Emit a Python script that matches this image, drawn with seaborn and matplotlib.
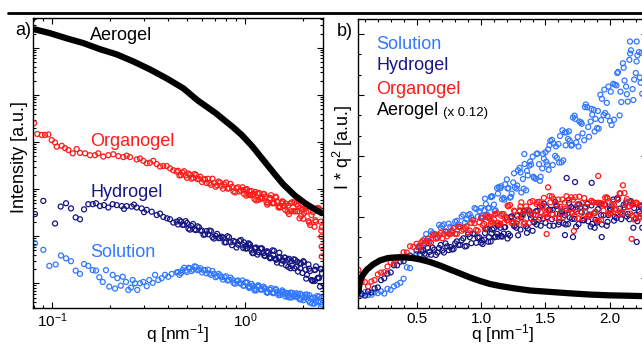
import numpy as np
import matplotlib
matplotlib.use("Agg")
import matplotlib.pyplot as plt
import seaborn as sns
from matplotlib.lines import Line2D
from matplotlib.ticker import (LogLocator, NullFormatter, MultipleLocator,
                               FixedLocator, FormatStrFormatter)

SOL_COLOR = "#3278ff"
HYDRO_COLOR = "#161683"
ORGANO_COLOR = "#ff1a1a"

# ---------------- panel a) : log-log curves, values are log10(I) (offset curves)
# dense high-q part, interleaved q grids
Q_HI_A = [0.449, 0.466, 0.483, 0.500, 0.518, 0.537, 0.557, 0.577, 0.598, 0.620,
          0.643, 0.666, 0.690, 0.716, 0.742, 0.769, 0.797, 0.826, 0.856, 0.887,
          0.920, 0.953, 0.988, 1.024, 1.062, 1.100, 1.141, 1.182, 1.225, 1.270,
          1.316, 1.364, 1.414, 1.466, 1.519, 1.575, 1.632, 1.691, 1.754, 1.817,
          1.884, 1.953, 2.023, 2.097, 2.174, 2.253, 2.335, 2.421, 2.509]
Q_HI_B = [0.457, 0.474, 0.492, 0.509, 0.527, 0.547, 0.567, 0.587, 0.609, 0.631,
          0.654, 0.678, 0.703, 0.729, 0.755, 0.783, 0.811, 0.841, 0.871, 0.903,
          0.936, 0.970, 1.006, 1.043, 1.081, 1.120, 1.161, 1.203, 1.247, 1.293,
          1.340, 1.389, 1.440, 1.492, 1.547, 1.603, 1.662, 1.722, 1.785, 1.850,
          1.918, 1.987, 2.060, 2.135, 2.213, 2.294, 2.378, 2.465]
Q_HI_C = [0.979, 1.015, 1.052, 1.091, 1.130, 1.172, 1.214, 1.258, 1.304, 1.352,
          1.401, 1.452, 1.506, 1.560, 1.618, 1.676, 1.737, 1.801, 1.866, 1.935,
          2.006, 2.078, 2.154, 2.233, 2.314, 2.398, 2.486]

ORGANO_LQ = [0.0804, 0.0836, 0.0881, 0.0917, 0.0953, 0.0993, 0.1033, 0.1054, 0.1119, 0.1164,
             0.1211, 0.1276, 0.1338, 0.1392, 0.1478, 0.1569, 0.1665, 0.1732, 0.1839, 0.1952,
             0.2072, 0.2201, 0.2336, 0.2433, 0.2530, 0.2742, 0.2851, 0.2966, 0.3090, 0.3214,
             0.3343, 0.3482, 0.3621, 0.3767, 0.3924, 0.4081, 0.4244, 0.4419, 2.50, 2.50, 2.49]
ORGANO_LI = [3.40, 3.17, 3.15, 3.15, 3.16, 3.04, 2.99, 2.90, 2.92, 2.87,
             2.83, 2.76, 2.85, 2.77, 2.76, 2.72, 2.72, 2.76, 2.69, 2.72,
             2.74, 2.70, 2.68, 2.71, 2.68, 2.63, 2.65, 2.60, 2.55, 2.56,
             2.60, 2.53, 2.48, 2.49, 2.49, 2.44, 2.40, 2.37, 0.78, 0.57, 0.99]
ORGANO_HI_A = [2.39, 2.30, 2.38, 2.24, 2.30, 2.24, 2.30, 2.22, 2.15, 2.21,
               2.22, 2.09, 2.13, 2.08, 2.14, 2.01, 2.14, 2.02, 2.05, 1.93,
               2.04, 1.97, 1.90, 2.00, 1.87, 1.90, 1.76, 1.92, 1.80, 1.84,
               1.71, 1.87, 1.70, 1.73, 1.61, 1.73, 1.69, 1.47, 1.72, 1.53,
               1.64, 1.43, 1.49, 1.64, 1.24, 1.51, 1.31, 1.59, 1.19]
ORGANO_HI_B = [2.29, 2.35, 2.29, 2.33, 2.22, 2.32, 2.21, 2.26, 2.20, 2.13,
               2.13, 2.22, 2.05, 2.16, 2.07, 2.10, 2.01, 2.11, 1.95, 2.02,
               1.95, 2.04, 1.99, 1.88, 1.96, 1.79, 1.91, 1.80, 1.90, 1.72,
               1.80, 1.70, 1.84, 1.61, 1.70, 1.64, 1.52, 1.70, 1.53, 1.68,
               1.38, 1.56, 1.59, 1.32, 1.45, 1.20, 1.60, 1.31]
ORGANO_HI_C = [1.98, 1.86, 1.96, 1.87, 1.94, 1.77, 1.83, 1.89, 1.67, 1.81,
               1.71, 1.82, 1.64, 1.74, 1.56, 1.65, 1.53, 1.72, 1.53, 1.60,
               1.37, 1.52, 1.29, 1.60, 1.34, 1.57, 1.12]

HYDRO_LQ = [0.0813, 0.0898, 0.1033, 0.1105, 0.1178, 0.1250, 0.1322, 0.1392, 0.1461, 0.1537,
            0.1621, 0.1685, 0.1768, 0.1854, 0.1952, 0.2057, 0.2159, 0.2292, 0.2355, 0.2433,
            0.2582, 0.2655, 0.2742, 0.2909, 0.2991, 0.3090, 0.3280, 0.3482, 0.3621, 0.3767,
            0.3937, 0.4081, 0.4244, 0.4419, 2.45, 2.30]
HYDRO_LI = [1.47, 1.75, 1.27, 1.63, 1.70, 1.59, 1.40, 1.36, 1.57, 1.68,
            1.68, 1.70, 1.64, 1.66, 1.61, 1.68, 1.66, 1.64, 1.58, 1.64,
            1.63, 1.67, 1.61, 1.59, 1.51, 1.56, 1.52, 1.45, 1.48, 1.41,
            1.38, 1.36, 1.29, 1.31, -0.07, 0.05]
HYDRO_HI_A = [1.25, 1.31, 1.24, 1.28, 1.14, 1.26, 1.13, 1.19, 1.12, 1.04,
              1.04, 1.11, 0.95, 1.05, 0.96, 0.97, 0.87, 0.98, 0.81, 0.88,
              0.82, 0.92, 0.87, 0.74, 0.82, 0.64, 0.76, 0.66, 0.74, 0.58,
              0.65, 0.54, 0.69, 0.44, 0.55, 0.48, 0.38, 0.52, 0.38, 0.50,
              0.25, 0.42, 0.45, 0.18, 0.26, 0.05, 0.36, 0.11, 0.21]
HYDRO_HI_B = [1.34, 1.24, 1.32, 1.16, 1.22, 1.14, 1.21, 1.12, 1.03, 1.11,
              1.12, 0.98, 1.01, 0.96, 0.99, 0.87, 1.00, 0.87, 0.90, 0.76,
              0.90, 0.82, 0.74, 0.85, 0.70, 0.74, 0.61, 0.74, 0.64, 0.67,
              0.55, 0.70, 0.52, 0.55, 0.42, 0.55, 0.50, 0.32, 0.51, 0.35,
              0.43, 0.22, 0.29, 0.40, 0.07, 0.28, 0.11, 0.31]
HYDRO_HI_C = [0.75, 0.80, 0.83, 0.65, 0.75, 0.66, 0.74, 0.59, 0.68, 0.53,
              0.60, 0.50, 0.65, 0.49, 0.54, 0.35, 0.47, 0.32, 0.46, 0.32,
              0.47, 0.10, 0.31, 0.06, 0.29, 0.12, 0.30]

SOL_LQ = [0.0813, 0.0898, 0.0965, 0.1041, 0.1109, 0.1178, 0.1250, 0.1322, 0.1392, 0.1461,
          0.1537, 0.1621, 0.1685, 0.1753, 0.1826, 0.1899, 0.1975, 0.2057, 0.2115, 0.2175,
          0.2265, 0.2319, 0.2412, 0.2479, 0.2561, 0.2613, 0.2686, 0.2761, 0.2851, 0.2966,
          0.3090, 0.3187, 0.3319, 0.3412, 0.3549, 0.3695, 0.3844, 0.3999, 0.4164, 0.4419, 2.48]
SOL_LI = [0.85, 0.71, 0.37, 0.40, 0.59, 0.53, 0.47, 0.27, 0.20, 0.41,
          0.37, 0.28, 0.27, 0.13, 0.03, 0.28, -0.07, 0.18, -0.11, 0.11,
          -0.05, 0.14, 0.03, -0.14, -0.09, 0.07, 0.00, -0.14, 0.00, 0.03,
          -0.06, 0.07, 0.01, 0.18, 0.07, 0.11, 0.18, 0.14, 0.20, 0.23, -0.50]
SOL_HI_A = [0.24, 0.22, 0.33, 0.24, 0.32, 0.29, 0.35, 0.29, 0.23, 0.28,
            0.29, 0.18, 0.20, 0.15, 0.17, 0.08, 0.15, 0.07, 0.08, -0.01,
            0.06, 0.00, -0.05, 0.02, -0.08, -0.06, -0.15, -0.06, -0.13, -0.11,
            -0.19, -0.10, -0.20, -0.18, -0.25, -0.18, -0.20, -0.30, -0.20, -0.28,
            -0.23, -0.34, -0.30, -0.24, -0.41, -0.30, -0.39, -0.28, -0.45]
SOL_HI_B = [0.18, 0.28, 0.27, 0.33, 0.26, 0.36, 0.28, 0.32, 0.28, 0.21,
            0.21, 0.26, 0.13, 0.20, 0.13, 0.13, 0.06, 0.12, 0.01, 0.05,
            0.00, 0.06, 0.02, -0.07, -0.01, -0.15, -0.07, -0.13, -0.07, -0.19,
            -0.13, -0.20, -0.12, -0.25, -0.19, -0.22, -0.28, -0.20, -0.28, -0.21,
            -0.34, -0.25, -0.24, -0.37, -0.32, -0.43, -0.27, -0.40]
SOL_HI_C = [-0.05, 0.01, -0.10, -0.05, -0.11, -0.04, -0.13, -0.10, -0.20, -0.14,
            -0.21, -0.14, -0.21, -0.15, -0.28, -0.21, -0.30, -0.23, -0.29, -0.22,
            -0.36, -0.30, -0.25, -0.43, -0.31, -0.39, -0.31]

AERO_LQ = [0.0813, 0.0973, 0.1188, 0.1448, 0.1768, 0.2159, 0.2633, 0.3214, 0.3924, 0.4785,
           0.565, 0.706, 0.869, 0.961, 1.09, 1.221, 1.431, 1.58, 1.818, 2.05, 2.308, 2.50]
AERO_LI = [5.39, 5.31, 5.20, 5.10, 4.97, 4.86, 4.71, 4.54, 4.35, 4.14,
           3.89, 3.61, 3.31, 3.15, 2.91, 2.66, 2.31, 2.10, 1.86, 1.70, 1.57, 1.49]

# ---------------- panel b) : Kratky plot I*q^2 (arbitrary units)
KQ_A = [0.050, 0.075, 0.100, 0.125, 0.150, 0.175, 0.200, 0.225, 0.250, 0.275,
        0.300, 0.325, 0.350, 0.375, 0.400, 0.425, 0.450, 0.475, 0.500, 0.525,
        0.550, 0.575, 0.600, 0.625, 0.650, 0.675, 0.700, 0.725, 0.750, 0.775,
        0.800, 0.825, 0.850, 0.875, 0.900, 0.925, 0.950, 0.975, 1.000, 1.025,
        1.050, 1.075, 1.100, 1.125, 1.150, 1.175, 1.200, 1.225, 1.250, 1.275,
        1.300, 1.325, 1.350, 1.375, 1.400, 1.425, 1.450, 1.475, 1.500, 1.525,
        1.550, 1.575, 1.600, 1.625, 1.650, 1.675, 1.700, 1.725, 1.750, 1.775,
        1.800, 1.825, 1.850, 1.875, 1.900, 1.925, 1.950, 1.975, 2.000, 2.025,
        2.050, 2.075, 2.100, 2.125, 2.150, 2.175, 2.200, 2.225, 2.250]
KQ_B = [0.5125, 0.5375, 0.5625, 0.5875, 0.6125, 0.6375, 0.6625, 0.6875, 0.7125, 0.7375,
        0.7625, 0.7875, 0.8125, 0.8375, 0.8625, 0.8875, 0.9125, 0.9375, 0.9625, 0.9875,
        1.0125, 1.0375, 1.0625, 1.0875, 1.1125, 1.1375, 1.1625, 1.1875, 1.2125, 1.2375,
        1.2625, 1.2875, 1.3125, 1.3375, 1.3625, 1.3875, 1.4125, 1.4375, 1.4625, 1.4875,
        1.5125, 1.5375, 1.5625, 1.5875, 1.6125, 1.6375, 1.6625, 1.6875, 1.7125, 1.7375,
        1.7625, 1.7875, 1.8125, 1.8375, 1.8625, 1.8875, 1.9125, 1.9375, 1.9625, 1.9875,
        2.0125, 2.0375, 2.0625, 2.0875, 2.1125, 2.1375, 2.1625, 2.1875, 2.2125, 2.2375]
KQ_C = [1.006, 1.031, 1.056, 1.081, 1.106, 1.131, 1.156, 1.181, 1.206, 1.231,
        1.256, 1.281, 1.306, 1.331, 1.356, 1.381, 1.406, 1.431, 1.456, 1.481,
        1.506, 1.531, 1.556, 1.581, 1.606, 1.631, 1.656, 1.681, 1.706, 1.731,
        1.756, 1.781, 1.806, 1.831, 1.856, 1.881, 1.906, 1.931, 1.956, 1.981,
        2.006, 2.031, 2.056, 2.081, 2.106, 2.131, 2.156, 2.181, 2.206, 2.231]

SOL_KA = [0.19, 0.14, 0.29, 0.15, 0.16, 0.28, 0.24, 0.33, 0.22, 0.45,
          0.40, 0.57, 0.65, 0.75, 0.95, 1.51, 1.47, 2.01, 2.17, 2.59,
          2.61, 3.15, 2.82, 3.19, 3.14, 3.60, 3.55, 3.28, 3.66, 3.23,
          3.75, 3.63, 4.01, 3.71, 4.08, 3.97, 4.43, 4.00, 4.43, 4.32,
          4.09, 4.97, 4.60, 5.41, 5.41, 4.93, 5.84, 4.94, 5.69, 5.39,
          6.41, 5.86, 5.30, 6.52, 6.96, 5.87, 6.59, 6.38, 7.18, 6.31,
          7.79, 7.00, 7.58, 6.68, 8.15, 7.83, 7.50, 8.98, 7.93, 8.65,
          7.77, 9.39, 8.69, 9.27, 8.37, 10.01, 9.01, 9.61, 8.72, 10.55,
          10.47, 8.99, 11.56, 10.41, 11.73, 10.29, 11.08, 12.11, 10.06]
SOL_KB = [2.53, 2.48, 2.90, 2.82, 3.29, 3.15, 3.01, 3.47, 3.63, 3.25,
          3.51, 3.46, 3.80, 3.52, 4.10, 3.88, 4.13, 3.86, 4.38, 4.28,
          3.93, 4.63, 4.44, 5.00, 4.32, 5.47, 4.87, 5.60, 5.42, 5.14,
          5.45, 6.29, 5.20, 6.60, 6.04, 6.57, 5.91, 7.12, 5.97, 6.86,
          6.57, 7.73, 7.61, 6.91, 7.98, 6.78, 8.16, 7.75, 8.89, 7.66,
          8.69, 8.11, 9.53, 7.94, 9.03, 8.82, 8.34, 9.81, 9.11, 10.41,
          8.52, 10.51, 11.13, 9.65, 10.71, 9.67, 12.20, 10.76, 11.95, 10.60]
SOL_KC = [4.03, 4.89, 4.42, 5.01, 4.28, 5.14, 5.50, 4.84, 5.39, 4.98,
          6.14, 5.54, 6.18, 5.38, 6.26, 6.72, 5.97, 7.09, 5.77, 7.09,
          6.71, 7.53, 6.55, 7.47, 6.67, 8.26, 7.52, 8.21, 7.55, 8.82,
          7.46, 8.58, 9.40, 8.42, 9.31, 8.20, 9.21, 8.76, 10.26, 8.96,
          10.16, 8.78, 11.08, 10.16, 11.34, 10.04, 12.04, 9.75, 11.65, 10.86]
SOL_XQ = [2.155, 2.207, 2.245, 1.336, 1.52]
SOL_XK = [12.63, 12.63, 12.07, 7.09, 7.32]

HYDRO_KA = [0.32, 0.20, 0.12, 0.32, 0.27, 0.47, 0.52, 0.88, 0.97, 1.20,
            1.26, 1.61, 1.61, 1.79, 1.81, 2.04, 2.09, 1.99, 2.34, 2.13,
            2.36, 2.12, 2.27, 2.47, 2.12, 2.46, 2.34, 2.69, 2.36, 2.39,
            2.69, 2.61, 2.84, 2.54, 3.13, 2.70, 3.15, 2.97, 2.72, 2.88,
            3.41, 2.78, 3.43, 3.16, 3.46, 3.17, 3.97, 3.07, 3.73, 3.46,
            4.28, 4.13, 3.53, 4.30, 3.31, 4.27, 3.86, 4.56, 3.70, 4.34,
            3.88, 4.73, 3.62, 4.27, 4.08, 3.64, 4.48, 3.90, 4.61, 4.48,
            3.83, 4.63, 3.52, 4.17, 3.72, 4.60, 4.08, 3.56, 4.40, 4.85,
            3.94, 4.40, 4.14, 4.66, 3.88, 4.63, 3.91, 4.24, 3.46]
HYDRO_KB = [1.94, 2.32, 2.18, 2.46, 2.13, 2.38, 2.24, 2.61, 2.24, 2.54,
            2.51, 2.41, 2.79, 2.61, 2.94, 2.56, 3.00, 3.17, 2.72, 2.99,
            2.66, 3.39, 3.00, 3.37, 3.02, 3.61, 3.02, 3.49, 3.16, 4.02,
            3.56, 3.09, 3.98, 4.29, 3.43, 3.93, 3.72, 4.29, 3.56, 4.65,
            3.99, 4.34, 3.56, 4.53, 4.14, 3.69, 4.31, 3.96, 4.42, 3.51,
            4.61, 3.83, 4.46, 4.11, 3.65, 3.85, 4.68, 3.62, 4.60, 4.08,
            4.50, 4.01, 4.85, 3.88, 4.46, 4.14, 4.77, 4.43, 3.78, 4.50]
HYDRO_KC = [2.84, 3.20, 2.77, 3.18, 2.99, 3.56, 3.06, 3.49, 2.93, 3.98,
            3.54, 4.04, 3.37, 4.26, 3.21, 4.10, 3.76, 3.62, 4.51, 3.91,
            4.48, 3.56, 4.34, 4.60, 3.75, 4.21, 3.62, 4.68, 3.90, 4.35,
            3.64, 4.22, 4.48, 3.78, 4.56, 3.46, 4.37, 4.08, 4.60, 3.75,
            4.34, 3.81, 4.92, 4.20, 4.59, 4.01, 4.72, 3.46, 4.11, 4.56]
HYDRO_XQ = [1.664, 1.729, 1.858, 1.134, 1.651, 1.713, 1.936, 2.207]
HYDRO_XK = [5.91, 5.71, 5.67, 3.02, 3.10, 3.00, 3.00, 2.76]

ORGANO_KA = [1.38, 0.79, 0.78, 0.57, 0.81, 0.88, 1.16, 1.25, 1.27, 1.55,
             1.75, 1.70, 1.96, 2.03, 2.25, 2.24, 2.55, 2.52, 2.67, 2.48,
             2.83, 2.78, 2.76, 3.09, 2.92, 3.09, 2.94, 3.27, 3.16, 3.31,
             3.16, 3.51, 3.31, 3.44, 3.23, 3.70, 3.68, 3.31, 3.95, 3.65,
             3.98, 3.65, 3.87, 4.17, 3.66, 4.13, 3.83, 4.58, 3.70, 3.67,
             4.32, 4.07, 4.51, 3.70, 4.77, 4.09, 4.74, 4.49, 4.10, 4.30,
             5.00, 3.95, 4.85, 4.37, 4.70, 4.18, 4.96, 4.06, 4.58, 4.25,
             4.92, 4.69, 4.07, 4.71, 3.79, 4.68, 4.31, 4.96, 4.17, 4.74,
             4.34, 5.15, 4.15, 4.75, 4.52, 4.06, 4.69, 4.01, 4.57]
ORGANO_KB = [2.50, 2.75, 2.71, 2.92, 2.72, 3.13, 2.95, 3.20, 3.14, 3.04,
             3.15, 3.44, 3.15, 3.49, 3.38, 3.53, 3.32, 3.83, 3.35, 3.72,
             3.59, 4.06, 4.01, 3.71, 4.14, 3.62, 4.14, 3.93, 4.51, 3.69,
             4.26, 3.88, 4.71, 3.72, 4.35, 4.21, 3.89, 4.72, 4.23, 4.93,
             3.93, 4.71, 4.87, 4.13, 4.49, 3.97, 5.01, 4.36, 4.84, 4.23,
             4.99, 3.93, 4.48, 4.02, 4.72, 4.25, 3.82, 4.65, 4.94, 4.15,
             4.61, 4.39, 4.90, 4.20, 5.17, 4.49, 4.71, 3.87, 4.62, 4.14]
ORGANO_KC = [3.95, 3.41, 3.95, 3.79, 4.12, 3.71, 4.05, 3.71, 4.55, 3.92,
             4.30, 3.79, 4.50, 3.65, 4.27, 4.72, 4.11, 4.63, 3.96, 4.55,
             4.22, 5.02, 4.10, 4.61, 3.95, 4.85, 4.40, 4.84, 4.18, 4.96,
             3.92, 4.67, 4.26, 4.03, 4.79, 4.17, 4.69, 3.84, 4.61, 4.90,
             4.17, 4.62, 4.10, 5.15, 4.45, 4.87, 4.16, 4.60, 4.69, 3.95]
ORGANO_XQ = [0.05, 1.509, 1.52, 1.909, 2.168, 2.10, 1.72]
ORGANO_XK = [1.15, 3.15, 5.45, 6.01, 2.91, 5.55, 3.30]

# aerogel, already multiplied by 0.12
AERO_KQ = [0.050, 0.056, 0.066, 0.089, 0.116, 0.163, 0.217, 0.279, 0.341, 0.403,
           0.465, 0.527, 0.605, 0.682, 0.760, 0.837, 0.915, 0.992, 1.070, 1.147,
           1.264, 1.380, 1.535, 1.690, 1.845, 2.000, 2.155, 2.271, 2.62]
AERO_K = [0.30, 0.60, 0.94, 1.18, 1.40, 1.65, 1.85, 1.97, 2.00, 2.00,
          1.97, 1.90, 1.77, 1.60, 1.40, 1.21, 1.01, 0.84, 0.69, 0.59,
          0.47, 0.37, 0.30, 0.23, 0.17, 0.13, 0.11, 0.09, 0.05]

sns.set_theme(style="ticks", rc={
    "axes.edgecolor": "black", "axes.linewidth": 1.0,
    "xtick.color": "black", "ytick.color": "black",
    "text.color": "black", "axes.labelcolor": "black",
    "xtick.direction": "in", "ytick.direction": "in",
    "xtick.top": True, "ytick.right": True,
})
plt.rcParams["font.family"] = ["Liberation Sans", "DejaVu Sans"]
plt.rcParams["mathtext.default"] = "regular"


def rings(ax, x, y, color):
    sns.scatterplot(x=x, y=y, ax=ax, marker="o", s=13, color=color,
                    facecolor="none", edgecolor=color, linewidth=0.9, legend=False)


def style_ticks(ax):
    ax.tick_params(which="both", direction="in", top=True, right=True,
                   width=0.8, labelsize=11, pad=2.5)
    ax.tick_params(which="major", length=4.5)
    ax.tick_params(which="minor", length=2.5)


fig = plt.figure(figsize=(6.42, 3.44), dpi=100)
ax1 = fig.add_axes([0.0519, 0.1038, 0.4508, 0.8430])
ax2 = fig.add_axes([0.5581, 0.1038, 0.4497, 0.8410])

# ---- a)
rings(ax1, SOL_LQ + Q_HI_A + Q_HI_B + Q_HI_C,
      10 ** np.array(SOL_LI + SOL_HI_A + SOL_HI_B + SOL_HI_C), SOL_COLOR)
rings(ax1, HYDRO_LQ + Q_HI_A + Q_HI_B + Q_HI_C,
      10 ** np.array(HYDRO_LI + HYDRO_HI_A + HYDRO_HI_B + HYDRO_HI_C), HYDRO_COLOR)
rings(ax1, ORGANO_LQ + Q_HI_A + Q_HI_B + Q_HI_C,
      10 ** np.array(ORGANO_LI + ORGANO_HI_A + ORGANO_HI_B + ORGANO_HI_C), ORGANO_COLOR)
sns.lineplot(x=AERO_LQ, y=10 ** np.array(AERO_LI), ax=ax1, color="black", linewidth=4.5,
             estimator=None, sort=False, solid_capstyle="round")
ax1.set_xscale("log")
ax1.set_yscale("log")
ax1.set_xlim(0.0797, 2.531)
ax1.set_ylim(10 ** -0.53, 10 ** 5.626)
ax1.yaxis.set_major_locator(LogLocator(base=10, numticks=12))
ax1.yaxis.set_minor_locator(LogLocator(base=10, subs=np.arange(2, 10), numticks=12))
ax1.yaxis.set_major_formatter(NullFormatter())
ax1.yaxis.set_minor_formatter(NullFormatter())
ax1.xaxis.set_minor_formatter(NullFormatter())
style_ticks(ax1)
ax1.set_xlabel("q [nm$^{-1}$]", fontsize=12.5)
ax1.set_ylabel("Intensity [a.u.]", fontsize=13)
ax1.xaxis.set_label_coords(0.5, -0.046)
ax1.yaxis.set_label_coords(-0.0173, 0.523)

for label, color, y in [("Aerogel", "black", 0.925), ("Organogel", ORGANO_COLOR, 0.561),
                        ("Hydrogel", HYDRO_COLOR, 0.385), ("Solution", SOL_COLOR, 0.177)]:
    ax1.text(0.196, y, label, color=color, fontsize=13, transform=ax1.transAxes, va="baseline")

# ---- b)
rings(ax2, KQ_A + KQ_B + KQ_C + SOL_XQ, SOL_KA + SOL_KB + SOL_KC + SOL_XK, SOL_COLOR)
rings(ax2, KQ_A + KQ_B + KQ_C + HYDRO_XQ, HYDRO_KA + HYDRO_KB + HYDRO_KC + HYDRO_XK, HYDRO_COLOR)
rings(ax2, KQ_A + KQ_B + KQ_C + ORGANO_XQ, ORGANO_KA + ORGANO_KB + ORGANO_KC + ORGANO_XK,
      ORGANO_COLOR)
sns.lineplot(x=AERO_KQ, y=AERO_K, ax=ax2, color="black", linewidth=4.5,
             estimator=None, sort=False, solid_capstyle="round")
ax2.set_xlim(0.0488, 2.287)
ax2.set_ylim(-0.507, 13.74)
ax2.xaxis.set_major_locator(MultipleLocator(0.5))
ax2.xaxis.set_minor_locator(MultipleLocator(0.1))
ax2.xaxis.set_major_formatter(FormatStrFormatter("%.1f"))
ax2.yaxis.set_major_locator(FixedLocator([1, 4, 7, 10, 13]))
ax2.yaxis.set_minor_locator(MultipleLocator(1))
ax2.yaxis.set_major_formatter(NullFormatter())
style_ticks(ax2)
ax2.set_xlabel("q [nm$^{-1}$]", fontsize=12.5)
ax2.set_ylabel("I * q$^{2}$ [a.u.]", fontsize=13)
ax2.xaxis.set_label_coords(0.5, -0.046)
ax2.yaxis.set_label_coords(-0.0114, 0.556)

for label, color, y in [("Solution", SOL_COLOR, 0.895), ("Hydrogel", HYDRO_COLOR, 0.824),
                        ("Organogel", ORGANO_COLOR, 0.741)]:
    ax2.text(0.063, y, label, color=color, fontsize=13, transform=ax2.transAxes, va="baseline")
aer = ax2.text(0.063, 0.668, "Aerogel", color="black", fontsize=13,
               transform=ax2.transAxes, va="baseline")
ax2.annotate("(x 0.12)", xy=(1, 0), xycoords=aer, xytext=(3, 0),
             textcoords="offset points", fontsize=9.5, va="bottom")

fig.text(0.0234, 0.897, "a)", fontsize=13, va="baseline")
fig.text(0.5245, 0.895, "b)", fontsize=13, va="baseline")
fig.add_artist(Line2D([8 / 642, 1.0], [0.963, 0.963], transform=fig.transFigure,
                      color="black", linewidth=2))

fig.savefig("out.png", dpi=100)
